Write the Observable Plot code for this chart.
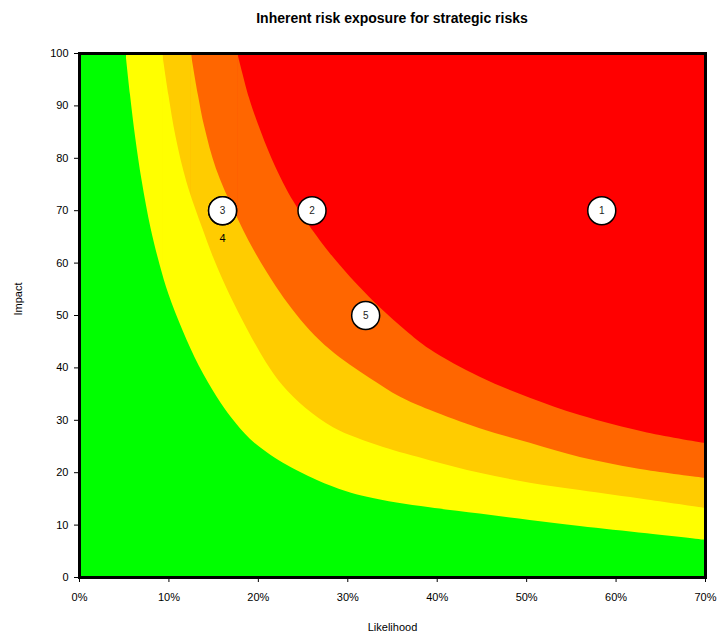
<!DOCTYPE html>
<html>
<head>
<meta charset="utf-8">
<script src="https://cdn.jsdelivr.net/npm/d3@7"></script>
<script src="https://cdn.jsdelivr.net/npm/@observablehq/plot@0.6"></script>
<style>
  html, body { margin: 0; padding: 0; background: #fff; }
  #title { height: 36px; line-height: 36px; margin-left: 79px; width: 626px; text-align: center;
           font-family: "Liberation Sans", Arial, sans-serif; font-weight: bold; font-size: 14px; color: #000; }
  #chart svg { display: block; }
</style>
</head>
<body>
<div id="title">Inherent risk exposure for strategic risks</div>
<div id="chart"></div>
<script>
// Tick labels
const xTicks = [0, 10, 20, 30, 40, 50, 60, 70];               // Likelihood (%)
const yTicks = [0, 10, 20, 30, 40, 50, 60, 70, 80, 90, 100];  // Impact

// Zone boundaries (likelihood %, impact)
const greenLikelihood  = [0, 5.2, 5.7, 6.3, 7, 8, 9, 10, 11.6, 13.4, 15.4, 17, 19.1, 21, 22.8, 26.6, 29.8, 32.2, 35.5, 39.2, 44.8, 50.4, 56, 63.5, 70];
const greenImpact      = [100, 100, 92.1, 83.7, 75.7, 66.6, 59.7, 54, 47, 40.3, 34.4, 30.5, 26.4, 23.8, 21.8, 18.5, 16.4, 15.3, 14.2, 13.3, 12.1, 10.9, 9.75, 8.35, 7.1];

const yellowLikelihood = [0, 9.3, 10, 10.8, 12, 13.8, 15, 16.8, 18.8, 20.9, 22.8, 25.3, 28.4, 31, 34, 39.2, 44.8, 50.4, 56, 63.5, 70];
const yellowImpact     = [100, 100, 92, 84, 75.5, 66.5, 61, 54, 47.3, 41, 36.5, 32.3, 28.6, 26.6, 24.8, 22.3, 19.9, 18, 16.6, 14.8, 13.2];

const amberLikelihood  = [0, 12.5, 13.3, 14, 15.3, 17.3, 19.5, 22, 23.8, 25.8, 28, 30.3, 32.5, 35.9, 39.2, 44.8, 50.4, 56, 63.5, 70];
const amberImpact      = [100, 100, 92, 86, 78, 70, 62.5, 55.5, 51.2, 47.1, 43.5, 40.5, 38, 34.4, 31.9, 28.4, 25.6, 22.9, 20.4, 18.9];

const orangeLikelihood = [0, 17.7, 19, 20, 21.5, 22.8, 24, 25.4, 28, 31, 33.8, 36.5, 39.2, 44.8, 50.4, 56, 63.5, 70];
const orangeImpact     = [100, 100, 91.5, 86.5, 80, 75.3, 71.6, 67.9, 61.9, 56, 51.2, 47.1, 43.5, 38.2, 34.2, 30.9, 27.6, 25.6];

// Risks
const riskIds        = ["1", "2", "3", "4", "5"];
const riskLikelihood = [58.4, 26.0, 16.0, 16.0, 32.0];
const riskImpact     = [70, 70, 70, 70, 50];

const zip = (xs, ys) => xs.map((x, i) => ({x, y: ys[i]}));
const risks = riskIds.map((id, i) => ({id, x: riskLikelihood[i], y: riskImpact[i]}));

const zones = [
  {pts: zip(orangeLikelihood, orangeImpact), fill: "#FF6600"},
  {pts: zip(amberLikelihood, amberImpact),   fill: "#FFCC00"},
  {pts: zip(yellowLikelihood, yellowImpact), fill: "#FFFF00"},
  {pts: zip(greenLikelihood, greenImpact),   fill: "#00FF00"}
];

// each zone: the flat part left of where the boundary leaves the top edge, then the curved boundary
const zoneMarks = zones.flatMap(z => [
  Plot.areaY(z.pts.slice(0, 2), {x: "x", y1: 0, y2: "y", fill: z.fill, stroke: z.fill, strokeWidth: 1, clip: true}),
  Plot.areaY(z.pts.slice(1), {x: "x", y1: 0, y2: "y", fill: z.fill, curve: "catmull-rom", clip: true})
]);

const chart = Plot.plot({
  width: 719,
  height: 606,
  marginLeft: 79,
  marginRight: 14,
  marginTop: 17,
  marginBottom: 65,
  style: {fontFamily: "'Liberation Sans', Arial, sans-serif", fontSize: "11px", color: "#000", background: "#fff"},
  x: {domain: [0, 70], label: null},
  y: {domain: [0, 100], label: null},
  marks: [
    Plot.frame({fill: "#FF0000"}),
    ...zoneMarks,
    Plot.frame({stroke: "#000", strokeWidth: 3}),
    Plot.axisX({ticks: xTicks, tickFormat: d => d + "%", tickSize: 5, tickPadding: 11, label: null}),
    Plot.axisY({ticks: yTicks, tickSize: 5, tickPadding: 6, label: null}),
    Plot.dot(risks, {x: "x", y: "y", r: 14, fill: "#fff", stroke: "#000", strokeWidth: 1.5}),
    Plot.text(risks.filter(d => d.id !== "4"), {x: "x", y: "y", text: "id", fontSize: 10, fill: "#222"}),
    Plot.text(risks.filter(d => d.id === "4"), {x: "x", y: "y", text: "id", dy: 28, fontSize: 11, fill: "#000"}),
    Plot.text(["Impact"], {frameAnchor: "left", text: d => d, dx: -61, rotate: -90, fontSize: 11}),
    Plot.text(["Likelihood"], {frameAnchor: "bottom", text: d => d, dy: 53, fontSize: 11})
  ]
});
document.getElementById("chart").appendChild(chart);
</script>
</body>
</html>
